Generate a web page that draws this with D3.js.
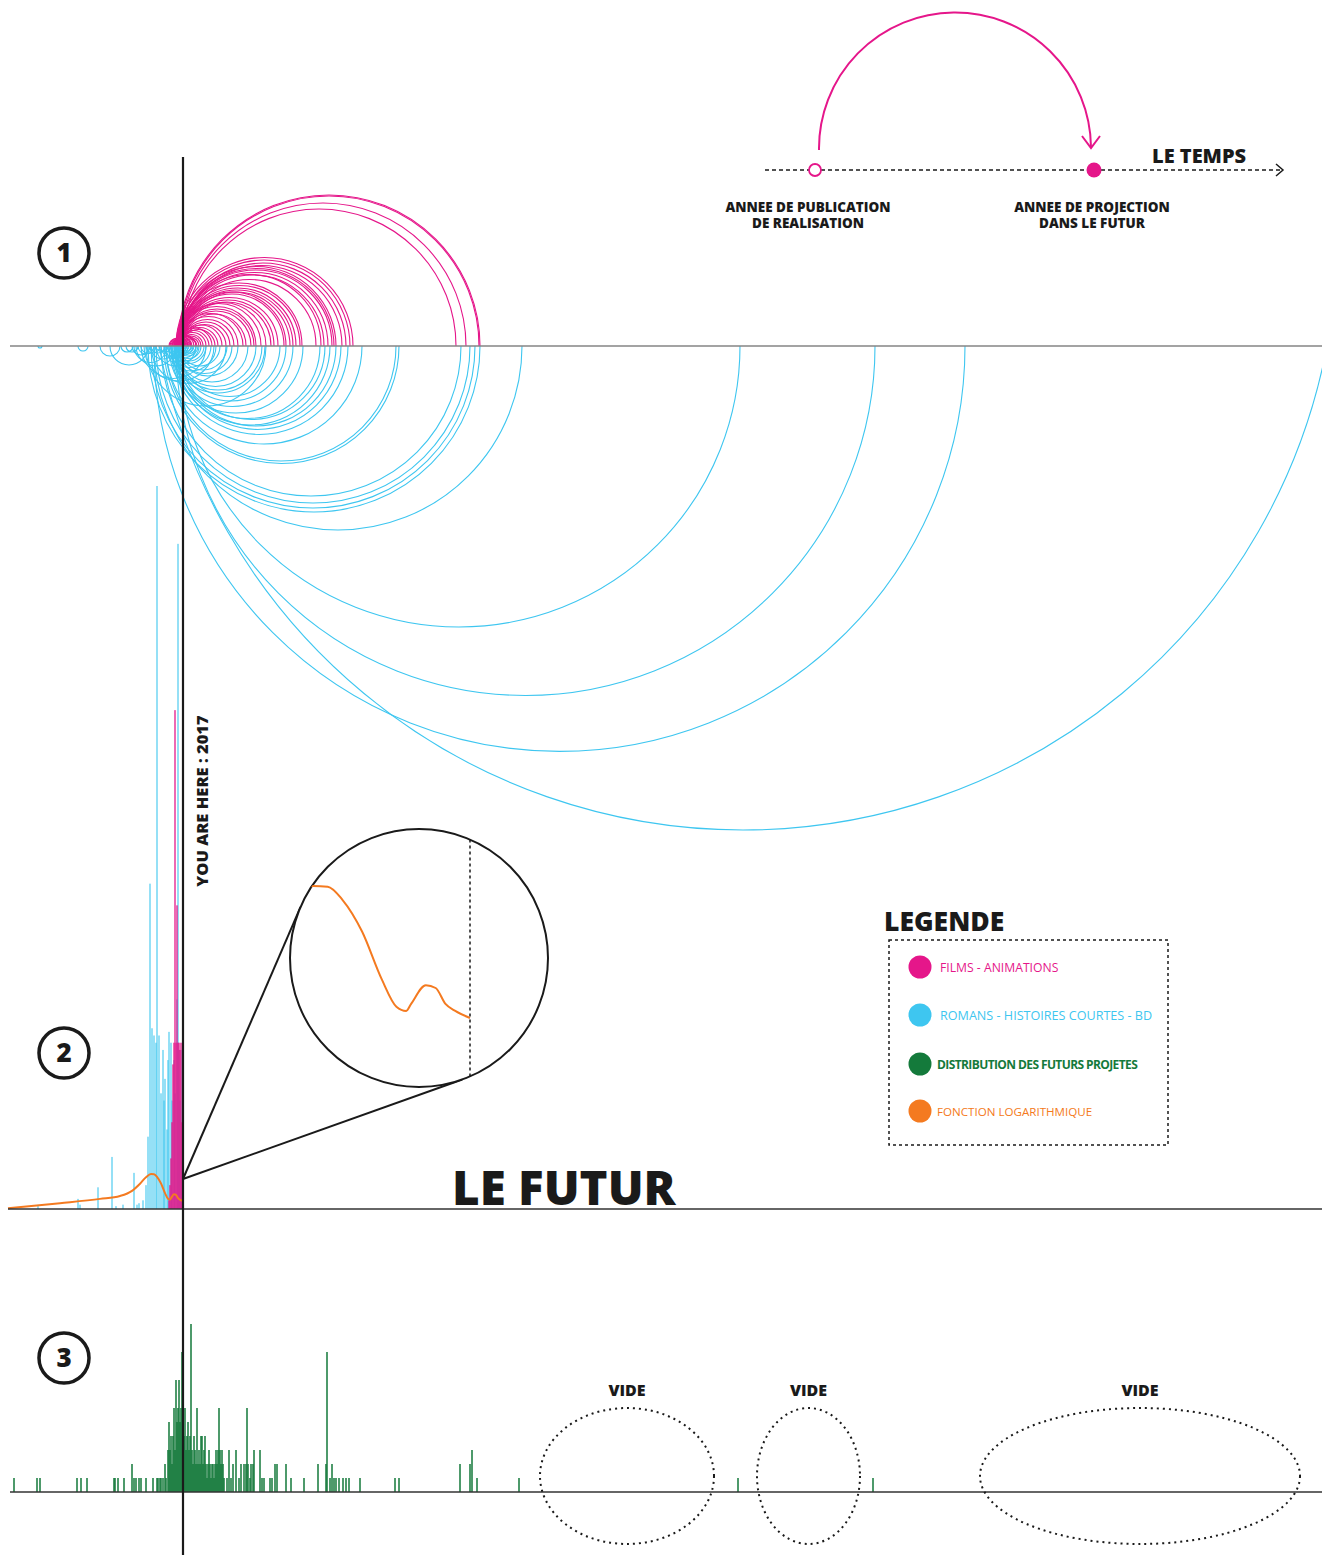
<!DOCTYPE html>
<html lang="fr">
<head>
<meta charset="UTF-8">
<title>Le futur</title>
<script src="https://d3js.org/d3.v7.min.js"></script>
<style>
  body { margin: 0; background: #fff; }
  svg { display: block; }
  text { font-family: "Open Sans", "DejaVu Sans", sans-serif; }
</style>
</head>
<body>
<svg width="1322" height="1555"></svg>
<script>
// ---- data (years) ----
// films: [publication year, projected year]
const films = [
  [2012, 2314], [2013, 2313], [2014, 2300], [2016, 2290],
  [2010, 2187], [2012, 2184], [2014, 2180], [2015, 2176],
  [2011, 2170], [2013, 2168], [2014, 2166], [2015, 2162], [2016, 2158], [2012, 2155], [2017, 2150],
  [2010, 2136], [2013, 2134], [2014, 2130], [2015, 2127], [2016, 2124], [2012, 2120],
  [2014, 2118], [2015, 2112], [2016, 2108], [2017, 2105], [2013, 2100],
  [2010, 2095], [2011, 2090], [2014, 2088], [2015, 2085], [2016, 2080], [2012, 2077],
  [2013, 2072], [2015, 2068], [2016, 2064], [2017, 2060], [2014, 2056], [2015, 2052],
  [2016, 2049], [2010, 2046], [2012, 2043], [2013, 2040], [2014, 2037], [2015, 2035],
  [2016, 2033], [2017, 2031], [2011, 2030], [2008, 2028], [2009, 2026], [2012, 2025],
  [2014, 2024], [2015, 2023], [2016, 2022], [2017, 2021], [2004, 2020], [2005, 2019],
  [2006, 2022], [2007, 2025], [2008, 2030], [2003, 2018], [2006, 2015], [2009, 2017],
  [2011, 2019], [2013, 2018], [2010, 2012]
];
// novels / short stories / comics: [publication year, projected year]
const novels = [
  [1993, 3161], [1988, 2799], [2010, 2709], [2012, 2574],
  [1988, 2356], [1982, 2314], [1985, 2309], [1990, 2304], [1995, 2295],
  [1998, 2233], [2000, 2230],
  [2000, 2196], [2005, 2182], [2008, 2175], [2010, 2170], [2006, 2164], [2012, 2159], [2009, 2154],
  [2003, 2137], [2006, 2127], [2010, 2120], [2013, 2114],
  [2005, 2099], [2008, 2096], [2010, 2082], [2012, 2072], [2013, 2061], [2014, 2054], [2011, 2066], [2009, 2090],
  [2000, 2050], [2002, 2045], [2005, 2040], [2008, 2038], [2010, 2035], [2012, 2032], [2014, 2030],
  [2015, 2028], [2016, 2026], [2003, 2033], [2006, 2030], [2009, 2027], [2011, 2025], [2013, 2023],
  [2015, 2021], [2016, 2020], [1998, 2022], [1995, 2020], [2001, 2018], [1990, 2030], [1985, 2060],
  [1980, 2100], [1978, 2048], [1975, 2040], [1970, 2010], [1968, 2001], [1984, 2010],
  [1872, 1876], [1912, 1922], [1934, 1954], [1944, 1982], [1955, 1967], [1960, 1972],
  [1966, 1984], [1972, 1988], [1975, 1990], [1980, 1994], [1985, 1999], [1990, 2001], [1993, 2005]
];

// publication counts per year (relative, 0-100)
const novelYears = [1872, 1912, 1914, 1932, 1946, 1950, 1957, 1968, 1971, 1973, 1977, 1980, 1982, 1984,
  1986, 1988, 1990, 1991, 1993, 1995, 1997, 1998, 1999,
  2001, 2002, 2003, 2005, 2006, 2008, 2009, 2011, 2012, 2013, 2014, 2016];
const novelCounts = [0.4, 1.4, 0.6, 3, 7.2, 0.4, 0.6, 5, 0.6, 0.8, 1.2, 3.3, 10, 45,
  25, 24, 23, 100, 24, 16, 22, 15, 18,
  11, 20.6, 24.5, 23, 15, 20.6, 16, 29, 92, 22, 15, 22];
const filmYears = [2003, 2004, 2005, 2006, 2007, 2008, 2009, 2010, 2011, 2012, 2013, 2014, 2015, 2016];
const filmCounts = [1.2, 3.3, 7, 12, 20, 23, 69, 23, 42, 23, 23, 22, 23, 12];

// logarithmic fit
const logYears = [1842, 1894, 1934, 1954, 1966, 1974, 1980, 1985, 1988, 1991, 1995, 1999, 2002,
  2004, 2005, 2008, 2010, 2012, 2014, 2017];
const logValues = [0.1, 0.8, 1.4, 1.8, 2.5, 3.5, 4.4, 4.84, 4.82, 4.45, 3.55, 2.2, 1.42,
  1.3, 1.5, 2.03, 1.95, 1.5, 1.3, 1.1];

// distribution of projected years (number of works)
const futureYears = [1848, 1871, 1874, 1911, 1915, 1921, 1948, 1949, 1952, 1958, 1966, 1968, 1970, 1973,
  1975, 1980, 1987, 1991, 1992, 1994, 1995, 1997, 1999, 2000, 2002, 2003, 2004, 2005, 2006, 2007,
  2008, 2009, 2010, 2011, 2012, 2013, 2014, 2015, 2016, 2017, 2018, 2019, 2020, 2021, 2022, 2023,
  2024, 2025, 2026, 2027, 2028, 2029, 2030, 2031, 2032, 2033, 2034, 2035, 2036, 2037, 2038, 2039,
  2040, 2041, 2042, 2043, 2044, 2045, 2046, 2047, 2048, 2049, 2050, 2051, 2052, 2053, 2054, 2055,
  2056, 2057, 2058, 2061, 2063, 2065, 2067, 2070, 2073, 2075, 2078, 2080, 2081, 2082, 2084, 2085,
  2087, 2088, 2094, 2096, 2098, 2104, 2106, 2109, 2111, 2120, 2125, 2138, 2152, 2160, 2161, 2164,
  2166, 2168, 2170, 2173, 2177, 2180, 2183, 2194, 2229, 2233, 2294, 2304, 2306, 2311, 2353, 2572,
  2707, 2796];
const futureCounts = [1, 1, 1, 1, 1, 1, 1, 1, 1, 1, 2, 1, 1, 1,
  1, 1, 1, 1, 1, 1, 1, 1, 2, 1, 3, 5, 3, 4, 2, 4,
  6, 3, 8, 5, 6, 8, 5, 6, 10, 7, 4, 6, 3, 4, 5, 3,
  4, 12, 3, 2, 4, 3, 2, 6, 2, 3, 2, 4, 4, 2, 3, 4,
  2, 1, 2, 3, 2, 1, 2, 2, 1, 2, 3, 2, 3, 6, 3, 2,
  3, 2, 1, 1, 3, 1, 2, 3, 1, 2, 2, 2, 6, 2, 1, 2,
  2, 3, 3, 1, 1, 1, 1, 2, 2, 2, 1, 1, 2, 2, 10,
  1, 2, 1, 1, 1, 1, 1, 1, 1, 1, 1, 2, 2, 3, 1, 1,
  1, 1];
const voids = [[2374, 2548], [2591, 2694], [2814, 3134]];

const legendLabels = ["FILMS - ANIMATIONS", "ROMANS - HISTOIRES COURTES - BD",
  "DISTRIBUTION DES FUTURS PROJETES", "FONCTION LOGARITHMIQUE"];

// ---- setup ----
const svg = d3.select("svg");
const pink = "#e5168a", blue = "#3ec6f0", green = "#147a3b", orange = "#f47a20", ink = "#1a1a1a";
const now = 2017;
const x = d3.scaleLinear().domain([1834, 3166]).range([0, 1332]);
const base1 = 346, base2 = 1209, base3 = 1492;
const y2 = d3.scaleLinear().domain([0, 100]).range([base2, 486]);
const y3 = d3.scaleLinear().domain([0, 1]).range([base3, base3 - 14]);
const maxDepth = 484;

function arcPath(d, up) {
  const x1 = x(d[0]), x2 = x(d[1]);
  const h = (x2 - x1) / 2;
  const depth = Math.min(h, maxDepth);
  const r = (h * h + depth * depth) / (2 * depth);
  return `M${x1},${base1} A${r},${r} 0 0 ${up ? 1 : 0} ${x2},${base1}`;
}

// ---- section 1 : arcs ----
svg.append("g").selectAll("path")
  .data(novels)
  .enter().append("path")
  .attr("d", d => arcPath(d, false))
  .attr("fill", "none")
  .attr("stroke", blue)
  .attr("stroke-width", 1.1);

svg.append("g").selectAll("path")
  .data(films)
  .enter().append("path")
  .attr("d", d => arcPath(d, true))
  .attr("fill", "none")
  .attr("stroke", pink)
  .attr("stroke-width", 1.1);

svg.append("line")
  .attr("x1", 10).attr("x2", 1322)
  .attr("y1", base1).attr("y2", base1)
  .attr("stroke", "#858585").attr("stroke-width", 1.6);

// ---- section 2 : publications ----
svg.append("g").selectAll("rect")
  .data(novelYears)
  .enter().append("rect")
  .attr("x", d => x(d) - 0.6)
  .attr("y", (d, i) => y2(novelCounts[i]))
  .attr("width", 1.2)
  .attr("height", (d, i) => base2 - y2(novelCounts[i]))
  .attr("fill", blue)
  .attr("opacity", 0.9);

svg.append("g").selectAll("rect")
  .data(filmYears)
  .enter().append("rect")
  .attr("x", d => x(d) - 0.8)
  .attr("y", (d, i) => y2(filmCounts[i]))
  .attr("width", 1.6)
  .attr("height", (d, i) => base2 - y2(filmCounts[i]))
  .attr("fill", pink)
  .attr("opacity", 0.8);

const logLine = d3.line()
  .x((d, i) => x(logYears[i]))
  .y((d, i) => y2(logValues[i]))
  .curve(d3.curveMonotoneX);

svg.append("path")
  .attr("d", logLine(logYears))
  .attr("fill", "none")
  .attr("stroke", orange)
  .attr("stroke-width", 2);

svg.append("line")
  .attr("x1", 8).attr("x2", 1322)
  .attr("y1", base2).attr("y2", base2)
  .attr("stroke", "#333").attr("stroke-width", 1.3);

// magnifier
const lens = { cx: 419, cy: 958, r: 129 };
const anchor = { x: x(now), y: 1179 };
const zoomX = d3.scaleLinear().domain([1985, now]).range([313, 470]);
const zoomY = d3.scaleLinear().domain([1.1, 4.84]).range([1018, 886]);

const dx = lens.cx - anchor.x, dy = lens.cy - anchor.y;
const dist = Math.hypot(dx, dy);
const baseAng = Math.atan2(dy, dx), halfAng = Math.asin(lens.r / dist);
const tanLen = Math.sqrt(dist * dist - lens.r * lens.r);
[baseAng - halfAng, baseAng + halfAng].forEach(a => {
  svg.append("line")
    .attr("x1", anchor.x).attr("y1", anchor.y)
    .attr("x2", anchor.x + tanLen * Math.cos(a))
    .attr("y2", anchor.y + tanLen * Math.sin(a))
    .attr("stroke", ink).attr("stroke-width", 2);
});

svg.append("clipPath").attr("id", "lensClip")
  .append("circle").attr("cx", lens.cx).attr("cy", lens.cy).attr("r", lens.r);

svg.append("circle")
  .attr("cx", lens.cx).attr("cy", lens.cy).attr("r", lens.r)
  .attr("fill", "#fff").attr("stroke", ink).attr("stroke-width", 2);

const zoomLine = d3.line()
  .x((d, i) => zoomX(logYears[i]))
  .y((d, i) => zoomY(logValues[i]))
  .curve(d3.curveMonotoneX);

svg.append("path")
  .attr("clip-path", "url(#lensClip)")
  .attr("d", zoomLine(logYears))
  .attr("fill", "none")
  .attr("stroke", orange)
  .attr("stroke-width", 2);

const zx = zoomX(now);
const zh = Math.sqrt(lens.r * lens.r - (zx - lens.cx) ** 2);
svg.append("line")
  .attr("x1", zx).attr("x2", zx)
  .attr("y1", lens.cy - zh).attr("y2", lens.cy + zh)
  .attr("stroke", ink).attr("stroke-width", 1.5)
  .attr("stroke-dasharray", "3,3");

svg.append("text")
  .attr("x", 452).attr("y", 1205)
  .attr("font-size", 47.5).attr("font-weight", 800)
  .attr("fill", ink)
  .text("LE FUTUR");

// legend
svg.append("text")
  .attr("x", 884).attr("y", 931)
  .attr("font-size", 26.5).attr("font-weight", 800)
  .attr("fill", ink)
  .text("LEGENDE");

svg.append("rect")
  .attr("x", 889).attr("y", 940)
  .attr("width", 279).attr("height", 205)
  .attr("fill", "none").attr("stroke", ink)
  .attr("stroke-width", 1.5).attr("stroke-dasharray", "3,3");

const legendColors = [pink, blue, green, orange];
const legendY = [967, 1015, 1064, 1111];
const legendSize = [12.2, 12.6, 12, 11.6];
const legend = svg.append("g").selectAll("g")
  .data(legendLabels)
  .enter().append("g");
legend.append("circle")
  .attr("cx", 920).attr("cy", (d, i) => legendY[i])
  .attr("r", 11.5)
  .attr("fill", (d, i) => legendColors[i]);
legend.append("text")
  .attr("x", (d, i) => i < 2 ? 940 : 937)
  .attr("y", (d, i) => legendY[i] + 5)
  .attr("font-family", (d, i) => i === 2 ? "'Roboto Condensed', 'Liberation Sans Narrow', 'Liberation Sans', sans-serif" : "'Liberation Sans', Arial, sans-serif")
  .attr("font-size", (d, i) => legendSize[i])
  .attr("font-weight", (d, i) => i === 2 ? 700 : 400)
  .attr("letter-spacing", (d, i) => i === 2 ? -0.6 : 0)
  .attr("fill", (d, i) => legendColors[i])
  .text(d => d);

// ---- section 3 : projected years ----
svg.append("g").selectAll("rect")
  .data(futureYears)
  .enter().append("rect")
  .attr("x", d => x(d) - 0.75)
  .attr("y", (d, i) => y3(futureCounts[i]))
  .attr("width", 1.5)
  .attr("height", (d, i) => base3 - y3(futureCounts[i]))
  .attr("fill", green);

svg.append("line")
  .attr("x1", 10).attr("x2", 1322)
  .attr("y1", base3).attr("y2", base3)
  .attr("stroke", "#333").attr("stroke-width", 1.3);

const vide = svg.append("g").selectAll("g")
  .data(voids)
  .enter().append("g");
vide.append("ellipse")
  .attr("cx", d => (x(d[0]) + x(d[1])) / 2)
  .attr("cy", base3 - 16)
  .attr("rx", d => (x(d[1]) - x(d[0])) / 2)
  .attr("ry", 68)
  .attr("fill", "none").attr("stroke", ink)
  .attr("stroke-width", 2).attr("stroke-dasharray", "2,4");
vide.append("text")
  .attr("x", d => (x(d[0]) + x(d[1])) / 2)
  .attr("y", 1396)
  .attr("text-anchor", "middle")
  .attr("font-size", 16).attr("font-weight", 800)
  .attr("fill", ink)
  .text("VIDE");

// ---- "now" line ----
svg.append("line")
  .attr("x1", x(now)).attr("x2", x(now))
  .attr("y1", 157).attr("y2", 1555)
  .attr("stroke", ink).attr("stroke-width", 2.2);

svg.append("text")
  .attr("transform", `translate(${x(now) + 25},801) rotate(-90)`)
  .attr("text-anchor", "middle")
  .attr("font-size", 16.5).attr("font-weight", 800)
  .attr("fill", ink)
  .text("YOU ARE HERE : 2017");

// section numbers
const numbers = [["1", 253], ["2", 1053], ["3", 1358]];
const num = svg.append("g").selectAll("g")
  .data(numbers)
  .enter().append("g")
  .attr("transform", d => `translate(64,${d[1]})`);
num.append("circle")
  .attr("r", 25)
  .attr("fill", "none").attr("stroke", ink).attr("stroke-width", 3.5);
num.append("text")
  .attr("text-anchor", "middle").attr("dy", "0.36em")
  .attr("font-size", 26).attr("font-weight", 800)
  .attr("fill", ink)
  .text(d => d[0]);

// ---- key: time arrow ----
const key = svg.append("g");
key.append("line")
  .attr("x1", 765).attr("x2", 1282)
  .attr("y1", 170).attr("y2", 170)
  .attr("stroke", ink).attr("stroke-width", 1.5)
  .attr("stroke-dasharray", "4,3");
key.append("path")
  .attr("d", "M1276,164 L1283,170 L1276,176")
  .attr("fill", "none").attr("stroke", ink).attr("stroke-width", 1.5);
key.append("path")
  .attr("d", "M819,150 A136,136 0 0 1 1091,147")
  .attr("fill", "none").attr("stroke", pink).attr("stroke-width", 2);
key.append("path")
  .attr("d", "M1082,136 L1091,148 L1100,136")
  .attr("fill", "none").attr("stroke", pink).attr("stroke-width", 2);
key.append("circle")
  .attr("cx", 815).attr("cy", 170).attr("r", 6)
  .attr("fill", "#fff").attr("stroke", pink).attr("stroke-width", 1.8);
key.append("circle")
  .attr("cx", 1094).attr("cy", 170).attr("r", 7.5)
  .attr("fill", pink);
key.append("text")
  .attr("x", 1152).attr("y", 163)
  .attr("font-size", 20).attr("font-weight", 800)
  .attr("fill", ink)
  .text("LE TEMPS");

const keyLabels = [
  [808, ["ANNEE DE PUBLICATION", "DE REALISATION"]],
  [1092, ["ANNEE DE PROJECTION", "DANS LE FUTUR"]]
];
keyLabels.forEach(k => {
  k[1].forEach((t, i) => {
    key.append("text")
      .attr("x", k[0]).attr("y", 212 + i * 16)
      .attr("text-anchor", "middle")
      .attr("font-size", 13.5).attr("font-weight", 800)
      .attr("fill", ink)
      .text(t);
  });
});
</script>
</body>
</html>
